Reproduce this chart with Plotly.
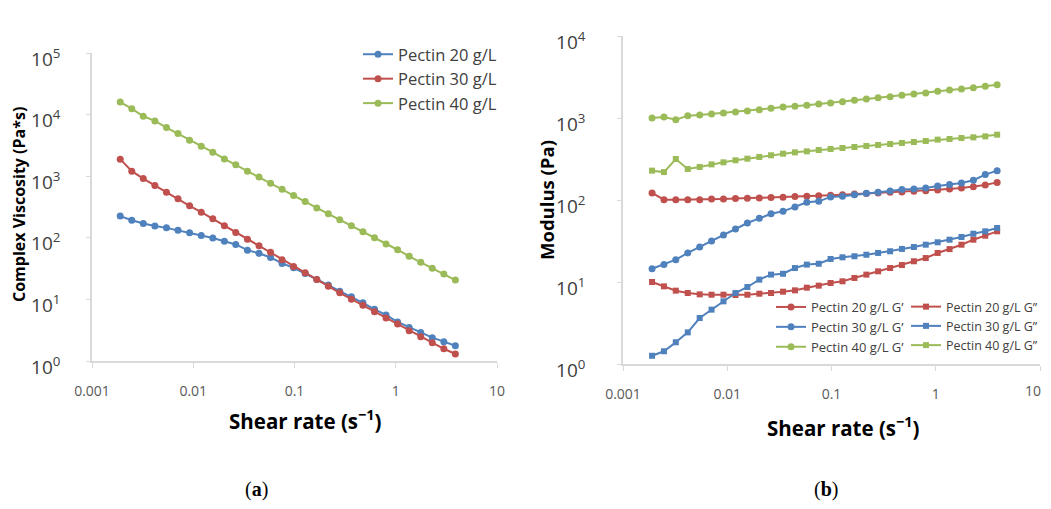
import plotly.graph_objects as go

# Shared shear rates (s^-1)
shear_rate = [0.0019, 0.00247, 0.00321, 0.00418, 0.00544, 0.00707, 0.0092, 0.0120, 0.0156, 0.0203,
              0.0263, 0.0343, 0.0446, 0.058, 0.0754, 0.098, 0.1275, 0.166, 0.216, 0.280,
              0.365, 0.474, 0.617, 0.802, 1.043, 1.357, 1.765, 2.295, 2.985, 3.88]

# (a) Complex viscosity (Pa*s)
visc_20 = [225, 193, 171, 155, 145, 133, 121, 109, 99, 88, 78, 63, 56, 48, 38.4, 32.6, 26.4, 21.1,
           17.1, 13.6, 11.0, 8.8, 6.9, 5.6, 4.3, 3.5, 2.9, 2.39, 2.06, 1.77]
visc_30 = [1890, 1205, 916, 706, 550, 429, 330, 261, 203, 157, 122, 95, 74, 58, 44, 34.3, 27, 21.1,
           16.4, 12.8, 10.1, 8.0, 6.3, 5.0, 3.98, 3.1, 2.48, 1.98, 1.58, 1.3]
visc_40 = [16000, 12500, 9400, 7900, 6150, 4920, 3840, 3060, 2450, 1910, 1530, 1205, 975, 770, 615,
           485, 388, 306, 245, 196, 157, 125, 100, 79, 64, 50, 40, 32, 25.8, 20.6]

# (b) Moduli (Pa)
g1_20 = [122, 101, 101, 101, 101, 103, 103, 104, 105, 106, 107, 108, 110, 111, 113, 114, 116, 118,
         120, 122, 124, 125, 128, 130, 132, 136, 140, 145, 152, 164]
g2_20 = [10, 8.85, 7.84, 7.34, 7.07, 7.0, 7.0, 6.94, 7.0, 7.2, 7.34, 7.62, 7.91, 8.53, 9.02, 9.72,
         10.2, 11.2, 12.3, 13.5, 14.8, 16.1, 17.9, 19.6, 22.6, 25.2, 28.5, 32.8, 36.7, 41.5]
g1_30 = [14.5, 16.3, 18.7, 22.6, 26.7, 31.6, 37.4, 44.3, 52.4, 59.7, 68, 72.7, 82.2, 93.7, 96.3, 109,
         111, 116, 121, 124, 129, 134, 136, 140, 148, 154, 161, 174, 204, 228]
g2_30 = [1.26, 1.43, 1.84, 2.43, 3.64, 4.6, 5.81, 7.34, 8.69, 10.7, 12.3, 12.6, 14.8, 16.3, 16.7, 19.1,
         20.0, 20.6, 21.5, 22.6, 23.7, 25.3, 26.7, 28.5, 30.5, 32.8, 35.4, 38.8, 41.5, 45.6]
g1_40 = [1000, 1028, 955, 1068, 1088, 1120, 1150, 1183, 1217, 1264, 1312, 1362, 1388, 1427, 1482, 1524,
         1582, 1642, 1706, 1771, 1820, 1890, 1963, 2018, 2115, 2195, 2259, 2345, 2434, 2552]
g2_40 = [228, 219, 316, 239, 253, 272, 288, 305, 319, 335, 351, 367, 381, 392, 407, 419, 431, 443,
         456, 469, 482, 496, 510, 524, 545, 555, 570, 581, 597, 626]

x_tick_vals = [0.001, 0.01, 0.1, 1, 10]
x_tick_text = ["0.001", "0.01", "0.1", "1", "10"]
xb_tick_text = ["0.001", "0.01", "0.1", "1", ""]   # last label drawn below so it stays inside the page
ya_tick_vals = [1, 10, 100, 1000, 10000, 100000]
ya_tick_text = ["10<sup>0</sup>", "10<sup>1</sup>", "10<sup>2</sup>", "10<sup>3</sup>", "10<sup>4</sup>", "10<sup>5</sup>"]
yb_tick_vals = [1, 10, 100, 1000, 10000]
yb_tick_text = ["10<sup>0</sup>", "10<sup>1</sup>", "10<sup>2</sup>", "10<sup>3</sup>", "10<sup>4</sup>"]

BLUE = "#4F81BD"
RED = "#C0504D"
GREEN = "#9BBB59"
FONT = "Open Sans"

fig = go.Figure()

def add(y, name, color, symbol, xa, ya, legend):
    fig.add_trace(go.Scatter(
        x=shear_rate, y=y, name=name, mode="lines+markers",
        line=dict(color=color, width=2),
        marker=dict(color=color, symbol=symbol, size=7 if symbol == "circle" else 6),
        xaxis=xa, yaxis=ya, legend=legend))

add(visc_20, "Pectin 20 g/L", BLUE, "circle", "x", "y", "legend")
add(visc_30, "Pectin 30 g/L", RED, "circle", "x", "y", "legend")
add(visc_40, "Pectin 40 g/L", GREEN, "circle", "x", "y", "legend")

add(g1_20, "Pectin 20 g/L G\u2019", RED, "circle", "x2", "y2", "legend2")
add(g1_30, "Pectin 30 g/L G\u2019", BLUE, "circle", "x2", "y2", "legend2")
add(g1_40, "Pectin 40 g/L G\u2019", GREEN, "circle", "x2", "y2", "legend2")
add(g2_20, "Pectin 20 g/L G\u2019\u2019", RED, "square", "x2", "y2", "legend3")
add(g2_30, "Pectin 30 g/L G\u2019\u2019", BLUE, "square", "x2", "y2", "legend3")
add(g2_40, "Pectin 40 g/L G\u2019\u2019", GREEN, "square", "x2", "y2", "legend3")

# page has an 8px body margin: work in screen pixels and convert
OFF = 8
W, H = 1051 - 2 * OFF, 509 - 2 * OFF


def px(s):
    return (s - OFF) / W


def py(s):
    return 1 - (s - OFF) / H


AXC = "#D9D9D9"
TICKC = "#595959"

xcommon = dict(type="log", showgrid=False, zeroline=False, showline=True, linecolor=AXC, linewidth=1.5,
               ticks="outside", ticklen=5, tickcolor=AXC, tickvals=x_tick_vals,
               tickfont=dict(family=FONT, size=14, color=TICKC), automargin=False, ticklabelstandoff=11,
               ticklabeloverflow="allow")
ycommon = dict(type="log", showgrid=False, zeroline=False, showline=True, linecolor=AXC, linewidth=1.5,
               ticks="outside", ticklen=4, tickcolor=AXC, ticklabelshift=6,
               tickfont=dict(family=FONT, size=19, color="#404040"), automargin=False,
               ticklabeloverflow="allow")

fig.update_layout(
    width=W, height=H, margin=dict(l=0, r=0, t=0, b=0),
    paper_bgcolor="white", plot_bgcolor="white",
    xaxis=dict(domain=[px(92), px(497)], range=[-3, 1], anchor="y", ticktext=x_tick_text, **xcommon),
    yaxis=dict(domain=[py(361), py(53)], range=[0, 5], anchor="x", ticklabelstandoff=22,
               tickvals=ya_tick_vals, ticktext=ya_tick_text, **ycommon),
    xaxis2=dict(domain=[px(623), px(1040)], range=[-3, 1], anchor="y2", ticktext=xb_tick_text, **xcommon),
    yaxis2=dict(domain=[py(364), py(36)], range=[0, 4], anchor="x2", ticklabelstandoff=28,
                tickvals=yb_tick_vals, ticktext=yb_tick_text, **ycommon),
    legend=dict(x=px(358), y=py(37), xanchor="left", yanchor="top", bgcolor="rgba(0,0,0,0)",
                font=dict(family=FONT, size=16.5, color="#404040"), itemwidth=30, tracegroupgap=0),
    legend2=dict(x=px(771), y=py(292), xanchor="left", yanchor="top", bgcolor="rgba(0,0,0,0)",
                 font=dict(family=FONT, size=13, color="#404040"), itemwidth=30, tracegroupgap=0),
    legend3=dict(x=1.0, y=py(292), xanchor="right", yanchor="top", bgcolor="rgba(0,0,0,0)",
                 font=dict(family=FONT, size=12.5, color="#404040"), itemwidth=30, tracegroupgap=0),
    showlegend=True,
)

annos = [
    dict(text="<b>Complex Viscosity (Pa*s)</b>", x=px(19), y=py(205), textangle=-90,
         font=dict(family=FONT, size=16, color="black")),
    dict(text="<b>Modulus (Pa)</b>", x=px(546), y=py(200), textangle=-90,
         font=dict(family=FONT, size=18.5, color="black")),
    dict(text="<b>Shear rate (s<sup>\u22121</sup>)</b>", x=px(305), y=py(420),
         font=dict(family=FONT, size=20.5, color="black")),
    dict(text="<b>Shear rate (s<sup>\u22121</sup>)</b>", x=px(843), y=py(427),
         font=dict(family=FONT, size=20.5, color="black")),
    dict(text="(<b>a</b>)", x=px(256), y=py(489),
         font=dict(family="Liberation Serif", size=20, color="black")),
    dict(text="(<b>b</b>)", x=px(826), y=py(489),
         font=dict(family="Liberation Serif", size=20, color="black")),
]
for a in annos:
    fig.add_annotation(xref="paper", yref="paper", showarrow=False, xanchor="center", yanchor="middle", **a)

# right-panel "10" tick label, kept inside the page edge
fig.add_annotation(xref="paper", yref="paper", showarrow=False, xanchor="right", yanchor="middle",
                   x=px(1043), y=py(390), text=x_tick_text[-1],
                   font=dict(family=FONT, size=14, color=TICKC))

fig.write_html("out.html")
